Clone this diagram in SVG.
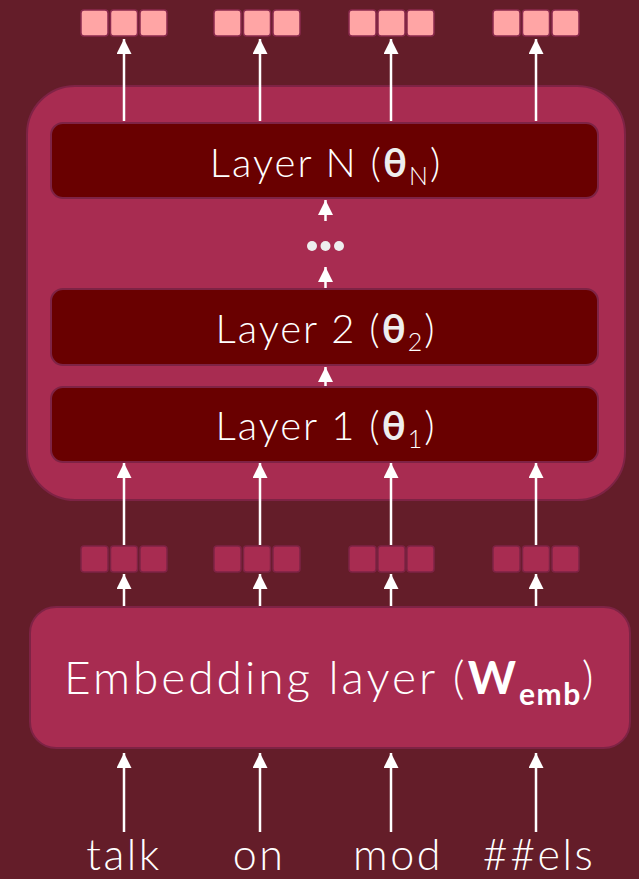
<svg xmlns="http://www.w3.org/2000/svg" width="639" height="879" viewBox="0 0 639 879">
<defs>
<marker id="ah" viewBox="0 0 16 15" refX="15" refY="7.5" markerWidth="16" markerHeight="15" markerUnits="userSpaceOnUse" orient="auto"><path d="M0,0 L15,7.5 L0,15 Z" fill="#fff"/></marker>
<style>
.bg{fill:#641D29}
.cont{fill:#A82C51;stroke:#7E2345;stroke-width:2}
.layer{fill:#690000;stroke:#7E2345;stroke-width:2}
.emb{fill:#A82C51;stroke:#7E2345;stroke-width:2}
.sq-out{fill:#FFA5A5;stroke:#8A2A4E;stroke-width:1.5}
.sq-mid{fill:#A82C51;stroke:#7E2345;stroke-width:1.5}
.lbl{font-family:Lato,"Open Sans","Liberation Sans",sans-serif;font-weight:300;fill:#fff}
.b{font-weight:700}
.arr{stroke:#fff;stroke-width:2.5;fill:none;marker-end:url(#ah)}
</style>
</defs>
<rect class="bg" x="0" y="0" width="639" height="879"/>
<g id="transformer">
<rect class="cont" x="27" y="86" width="598" height="414" rx="48"/>
</g>
<g id="layerN">
<rect class="layer" x="51" y="123" width="547" height="75" rx="12"/>
<text class="lbl" x="326" y="177" font-size="40" letter-spacing="2" text-anchor="middle">Layer N (<tspan class="b" fill="#eee">θ</tspan><tspan font-size="25" dy="8">N</tspan><tspan dy="-8">)</tspan></text>
</g>
<g id="layer2">
<rect class="layer" x="51" y="289" width="547" height="76" rx="12"/>
<text class="lbl" x="326" y="343" font-size="40" letter-spacing="2" text-anchor="middle">Layer 2 (<tspan class="b" fill="#eee">θ</tspan><tspan font-size="25" dy="8">2</tspan><tspan dy="-8">)</tspan></text>
</g>
<g id="layer1">
<rect class="layer" x="51" y="387" width="547" height="75" rx="12"/>
<text class="lbl" x="326" y="440" font-size="40" letter-spacing="2" text-anchor="middle">Layer 1 (<tspan class="b" fill="#eee">θ</tspan><tspan font-size="25" dy="8">1</tspan><tspan dy="-8">)</tspan></text>
</g>
<g id="dots" fill="#eee">
<circle cx="312" cy="246" r="5"/><circle cx="325.5" cy="246" r="5"/><circle cx="339" cy="246" r="5"/>
</g>
<g id="embedding">
<rect class="emb" x="30" y="607" width="600" height="141" rx="26"/>
<text class="lbl" x="64" y="694" font-size="46" letter-spacing="3">Embedding layer (<tspan class="b">W</tspan><tspan class="b" font-size="30" dy="11" letter-spacing="1.5">emb</tspan><tspan dy="-11">)</tspan></text>
</g>
<g id="out-vectors">
<g class="sq-out">
<rect x="81" y="10" width="27" height="26" rx="3"/><rect x="110.5" y="10" width="27" height="26" rx="3"/><rect x="140" y="10" width="27" height="26" rx="3"/>
<rect x="214" y="10" width="27" height="26" rx="3"/><rect x="243.5" y="10" width="27" height="26" rx="3"/><rect x="273" y="10" width="27" height="26" rx="3"/>
<rect x="349" y="10" width="27" height="26" rx="3"/><rect x="378" y="10" width="27" height="26" rx="3"/><rect x="407" y="10" width="27" height="26" rx="3"/>
<rect x="493" y="10" width="27" height="26" rx="3"/><rect x="522.5" y="10" width="27" height="26" rx="3"/><rect x="552" y="10" width="27" height="26" rx="3"/>
</g>
</g>
<g id="emb-vectors">
<g class="sq-mid">
<rect x="81" y="546" width="27" height="26" rx="3"/><rect x="110.5" y="546" width="27" height="26" rx="3"/><rect x="140" y="546" width="27" height="26" rx="3"/>
<rect x="214" y="546" width="27" height="26" rx="3"/><rect x="243.5" y="546" width="27" height="26" rx="3"/><rect x="273" y="546" width="27" height="26" rx="3"/>
<rect x="349" y="546" width="27" height="26" rx="3"/><rect x="378" y="546" width="27" height="26" rx="3"/><rect x="407" y="546" width="27" height="26" rx="3"/>
<rect x="493" y="546" width="27" height="26" rx="3"/><rect x="522.5" y="546" width="27" height="26" rx="3"/><rect x="552" y="546" width="27" height="26" rx="3"/>
</g>
</g>
<g id="tokens" class="lbl" font-size="43" letter-spacing="2.5" text-anchor="middle">
<text x="124" y="870">talk</text>
<text x="259" y="870">on</text>
<text x="398" y="870">mod</text>
<text x="539" y="870">##els</text>
</g>
<g id="connectors">
<line class="arr" x1="124" y1="121" x2="124" y2="39"/>
<line class="arr" x1="260" y1="121" x2="260" y2="39"/>
<line class="arr" x1="391" y1="121" x2="391" y2="39"/>
<line class="arr" x1="536" y1="121" x2="536" y2="39"/>
<line class="arr" x1="325.5" y1="221" x2="325.5" y2="200"/>
<line class="arr" x1="325.5" y1="288" x2="325.5" y2="267"/>
<line class="arr" x1="325.5" y1="386" x2="325.5" y2="367"/>
<line class="arr" x1="124" y1="545" x2="124" y2="463"/>
<line class="arr" x1="260" y1="545" x2="260" y2="463"/>
<line class="arr" x1="391" y1="545" x2="391" y2="463"/>
<line class="arr" x1="536" y1="545" x2="536" y2="463"/>
<line class="arr" x1="124" y1="606" x2="124" y2="574"/>
<line class="arr" x1="260" y1="606" x2="260" y2="574"/>
<line class="arr" x1="391" y1="606" x2="391" y2="574"/>
<line class="arr" x1="536" y1="606" x2="536" y2="574"/>
<line class="arr" x1="124" y1="832" x2="124" y2="753"/>
<line class="arr" x1="260" y1="832" x2="260" y2="753"/>
<line class="arr" x1="391" y1="832" x2="391" y2="753"/>
<line class="arr" x1="536" y1="832" x2="536" y2="753"/>
</g>
</svg>
